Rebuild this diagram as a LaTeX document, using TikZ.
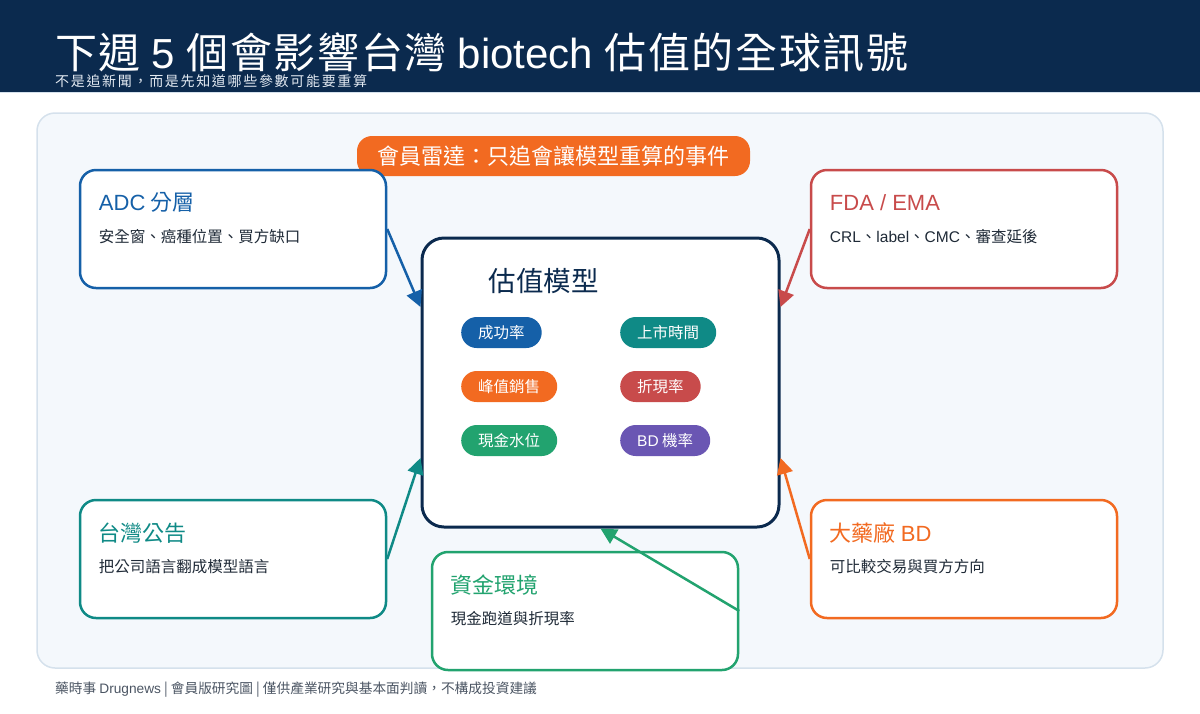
\documentclass[tikz,border=0pt]{standalone}
\usepackage{fontspec}
\setmainfont{Noto Sans CJK TC}
\newfontfamily\lat{Liberation Sans}
\newfontfamily\headfont[LetterSpace=4]{Noto Sans CJK TC}
\newfontfamily\subfont[LetterSpace=12]{Noto Sans CJK TC}
\usepackage{xcolor}
\usetikzlibrary{positioning, arrows.meta}

\definecolor{navy}{HTML}{0B2A4E}
\definecolor{panelbg}{HTML}{F4F8FC}
\definecolor{panelline}{HTML}{D5E1EC}
\definecolor{ink}{HTML}{1F2A37}
\definecolor{mute}{HTML}{4B5563}
\definecolor{paletext}{HTML}{E3EAF2}
\definecolor{cblue}{HTML}{1560A8}
\definecolor{cred}{HTML}{C84B4B}
\definecolor{cteal}{HTML}{0F8A86}
\definecolor{corange}{HTML}{F26A21}
\definecolor{cgreen}{HTML}{22A36F}
\definecolor{cpurple}{HTML}{6A56B3}

\newcommand{\fsz}[1]{\fontsize{#1}{#1}\selectfont}

\begin{document}
\begin{tikzpicture}[x=1pt, y=-1pt, >={Triangle[length=16pt, width=16pt]},
    srcbox/.style={draw=#1, line width=2.5pt, fill=white, rounded corners=16pt, minimum width=306pt, minimum height=118pt},
    boxhead/.style={text=#1, anchor=west, inner sep=0pt, font=\fsz{22pt}},
    boxnote/.style={text=ink, anchor=west, inner sep=0pt, font=\fsz{15.5pt}},
    chip/.style={fill=#1, text=white, rounded corners=15.5pt, minimum height=31pt, inner xsep=17pt, inner ysep=0pt, anchor=west, font=\fsz{15.5pt}},
    feed/.style={->, draw=#1, line width=2.5pt}]
    \useasboundingbox (0,0) rectangle (1200,713);

    % header band
    \fill[navy] (0,0) rectangle (1200,92);
    \draw[panelline, line width=1pt] (0,92.5) -- (1200,92.5);
    \node[anchor=base west, inner sep=0pt, text=white, font=\headfont\fsz{42pt}] (title) at (55,68)
        {下週 {\lat 5} 個會影響台灣 {\lat biotech} 估值的全球訊號};
    \node[anchor=west, inner sep=0pt, text=paletext, font=\subfont\fsz{14pt}] (subtitle) at (55,81.5)
        {不是追新聞，而是先知道哪些參數可能要重算};

    % panel
    \draw[panelline, fill=panelbg, line width=1.5pt, rounded corners=18pt] (37,113) rectangle (1163,668);

    \node[fill=corange, text=white, rounded corners=15pt, minimum width=393pt, minimum height=40pt, font=\fsz{22pt}] (radar) at (553.5,156)
        {會員雷達：只追會讓模型重算的事件};

    % valuation model
    \node[draw=navy, line width=3pt, fill=white, rounded corners=22pt, minimum width=357pt, minimum height=289pt] (model) at (600.5,382.5) {};
    \node[anchor=west, inner sep=0pt, text=navy, font=\fsz{27.5pt}] (modelhead) at ([xshift=68pt, yshift=-45pt]model.north west) {估值模型};

    \node[chip=cblue] (pos) at (461,332.5) {成功率};
    \node[chip=cteal] (launch) at (620,332.5) {上市時間};
    \node[chip=corange] (peak) at (461,386.5) {峰值銷售};
    \node[chip=cred] (disc) at (620,386.5) {折現率};
    \node[chip=cgreen] (cash) at (461,440.5) {現金水位};
    \node[chip=cpurple] (bdprob) at (620,440.5) {{\lat BD} 機率};

    % signal boxes
    \node[srcbox=cblue] (adc) at (233,229) {};
    \node[boxhead=cblue] (adchead) at ([xshift=20pt, yshift=-34pt]adc.north west) {{\lat ADC} 分層};
    \node[boxnote] (adcnote) at ([xshift=20pt, yshift=-68pt]adc.north west) {安全窗、癌種位置、買方缺口};

    \node[srcbox=cred] (fda) at (964,229) {};
    \node[boxhead=cred] (fdahead) at ([xshift=20pt, yshift=-34pt]fda.north west) {\lat FDA / EMA};
    \node[boxnote] (fdanote) at ([xshift=20pt, yshift=-68pt]fda.north west) {{\lat CRL}、{\lat label}、{\lat CMC}、審查延後};

    \node[srcbox=cteal] (twn) at (233,559) {};
    \node[boxhead=cteal] (twnhead) at ([xshift=20pt, yshift=-34pt]twn.north west) {台灣公告};
    \node[boxnote] (twnnote) at ([xshift=20pt, yshift=-68pt]twn.north west) {把公司語言翻成模型語言};

    \node[srcbox=corange] (bd) at (964,559) {};
    \node[boxhead=corange] (bdhead) at ([xshift=20pt, yshift=-34pt]bd.north west) {大藥廠 {\lat BD}};
    \node[boxnote] (bdnote) at ([xshift=20pt, yshift=-68pt]bd.north west) {可比較交易與買方方向};

    \node[srcbox=cgreen] (fund) at (585,611) {};
    \node[boxhead=cgreen] (fundhead) at ([xshift=20pt, yshift=-34pt]fund.north west) {資金環境};
    \node[boxnote] (fundnote) at ([xshift=20pt, yshift=-68pt]fund.north west) {現金跑道與折現率};

    % feeds into the model
    \coordinate (inadc) at ([yshift=75.5pt]model.west);
    \coordinate (intwn) at ([yshift=-75.5pt]model.west);
    \coordinate (infda) at ([yshift=75.5pt]model.east);
    \coordinate (inbd) at ([yshift=-75.5pt]model.east);

    \path (adc.east) edge[feed=cblue] (inadc)
          (twn.east) edge[feed=cteal] (intwn)
          (fda.west) edge[feed=cred] (infda)
          (bd.west) edge[feed=corange] (inbd)
          (fund.east) edge[feed=cgreen] (model.south);

    \node[anchor=west, inner sep=0pt, text=mute, font=\fsz{13.7pt}] (footer) at (55,690)
        {藥時事 {\lat Drugnews} | 會員版研究圖 | 僅供產業研究與基本面判讀，不構成投資建議};
\end{tikzpicture}
\end{document}
